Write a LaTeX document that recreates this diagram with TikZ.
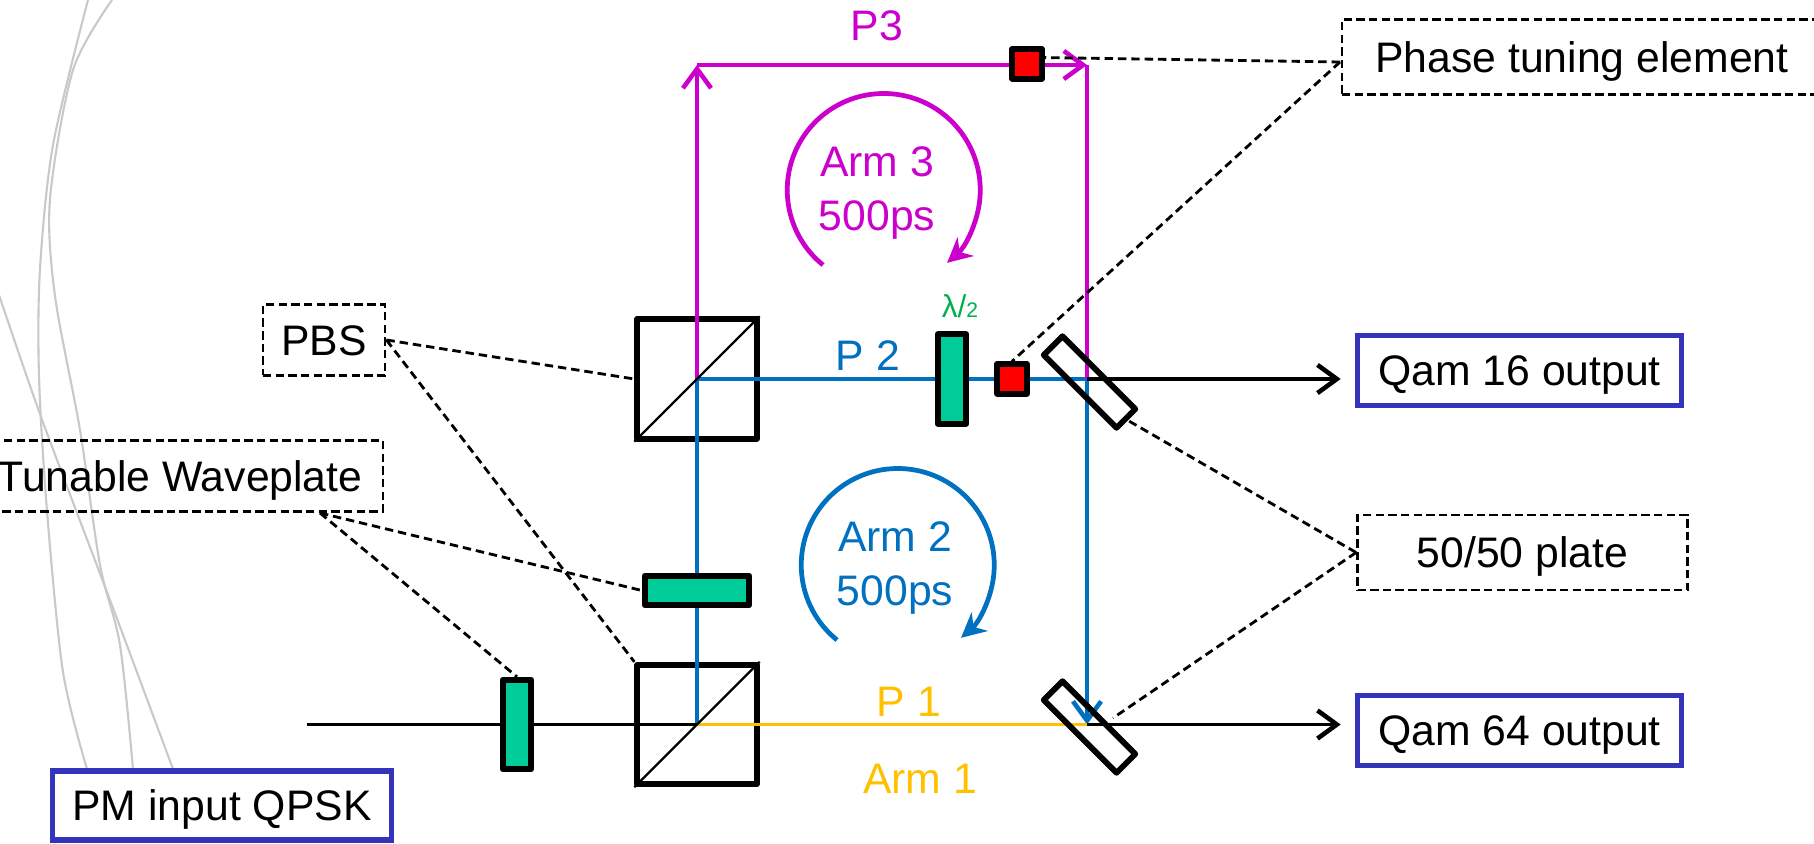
\documentclass[tikz,border=0pt]{standalone}
\usepackage{xcolor}
\usepackage{fontspec}
\setmainfont{Liberation Sans}
\usetikzlibrary{positioning,arrows.meta}

\definecolor{armthree}{HTML}{CC00CC}
\definecolor{armtwo}{HTML}{0070C0}
\definecolor{armone}{HTML}{FFC000}
\definecolor{plategreen}{HTML}{00CC99}
\definecolor{lambdagreen}{HTML}{00B050}
\definecolor{outblue}{HTML}{3333BB}
\definecolor{swoosh}{HTML}{C6CACA}

\begin{document}
\begin{tikzpicture}[
    every node/.style={font=\fontsize{12.15}{15.2}\selectfont},
    opaque part/.style={draw=black,line width=1.65pt,line join=round,inner sep=0pt},
    cube/.style={opaque part,minimum size=1.195cm},
    wave/.style={opaque part,fill=plategreen},
    phase/.style={opaque part,fill=red,minimum size=0.295cm},
    plate/.style={opaque part,minimum width=1.03cm,minimum height=0.265cm,rotate=-45},
    label box/.style={inner sep=0pt,text height=8.6pt,text depth=0pt,align=center},
    note/.style={label box,draw=black,line width=0.8pt,dash pattern=on 2.4pt off 1.2pt},
    output/.style={label box,draw=outblue,line width=1.6pt},
    leader/.style={draw=black,line width=0.8pt,dash pattern=on 2.4pt off 1.4pt},
    beam/.style={line width=1pt},
    tip/.style={-{Straight Barb[length=5.5pt,width=8pt,line width=1.3pt]}},
    turn/.style={line width=1.35pt,-{Stealth[length=7pt,width=7pt]}}
  ]

  \path[use as bounding box,clip] (0,0) rectangle (18.14,8.43);

  \draw[swoosh,line width=0.6pt] plot[smooth] coordinates {(0.88,8.43) (0.53,6.98) (0.40,5.74) (0.39,4.67) (0.47,3.32) (0.63,1.71) (0.87,0.74)};
  \draw[swoosh,line width=0.6pt] plot[smooth] coordinates {(1.12,8.43) (0.73,7.73) (0.50,6.44) (0.55,5.47) (0.80,4.13) (1.00,2.78) (1.20,1.98) (1.33,0.74)};
  \draw[swoosh,line width=0.6pt] plot[smooth] coordinates {(-0.10,5.75) (0.40,4.29) (1.13,2.35) (1.73,0.74)};

  \coordinate (start) at (3.07,1.185);
  \coordinate (topleft) at (6.97,7.78);
  \coordinate (topright) at (10.87,7.78);
  \coordinate (midright) at (10.87,4.64);
  \coordinate (botright) at (10.87,1.185);

  \node[cube] (pbstop) at (6.97,4.64) {};
  \node[cube] (pbsbot) at (6.97,1.185) {};

  \node[output,minimum width=3.24cm,minimum height=0.70cm] (qamup) at (15.195,4.725) {Qam 16 output};
  \node[output,minimum width=3.24cm,minimum height=0.70cm] (qamdown) at (15.195,1.125) {Qam 64 output};
  \node[output,minimum width=3.39cm,minimum height=0.69cm] (input) at (2.22,0.375) {PM input QPSK};

  \draw[beam,armtwo] (pbsbot.center) -- (pbstop.center);
  \draw[beam,armtwo] (pbstop.center) -- (midright);
  \draw[beam,armtwo,tip] (midright) -- (botright);
  \draw[beam,armone] (pbsbot.center) -- (botright);
  \draw[beam,armthree,tip] (pbstop.center) -- (topleft);
  \draw[beam,armthree,tip] (topleft) -- (topright);
  \draw[beam,armthree] (topright) -- (midright);
  \draw[beam] (start) -- (pbsbot.center);
  \draw[beam,tip,shorten >=0.14cm] (midright) -- (qamup.west |- midright);
  \draw[beam,tip,shorten >=0.14cm] (botright) -- (qamdown.west |- botright);

  \draw[black,line width=0.65pt] (pbstop.south west) -- (pbstop.north east);
  \draw[black,line width=0.65pt] (pbsbot.south west) -- (pbsbot.north east);

  \node[plate] (splitup) at (10.895,4.61) {};
  \node[plate] (splitdown) at (10.895,1.16) {};

  \node[wave,minimum width=0.285cm,minimum height=0.895cm] (waveinput) at (5.17,1.185) {};
  \node[wave,minimum width=1.045cm,minimum height=0.295cm] (wavearm) at (6.97,2.525) {};
  \node[wave,minimum width=0.285cm,minimum height=0.895cm] (wavehalf) at (9.52,4.64) {};
  \node[phase] (phasearm) at (10.12,4.64) {};
  \node[phase] (phasetop) at (10.27,7.79) {};

  \node[note,minimum width=1.22cm,minimum height=0.71cm] (pbs) at (3.24,5.03) {PBS};
  \node[note,minimum width=4.06cm,minimum height=0.71cm] (tunable) at (1.80,3.67) {Tunable Waveplate};
  \node[note,minimum width=4.80cm,minimum height=0.75cm] (tuning) at (15.82,7.86) {Phase tuning element};
  \node[note,minimum width=3.30cm,minimum height=0.75cm] (fifty) at (15.225,2.905) {50/50 plate};

  \coordinate (tunablefoot) at (3.20,3.30);
  \coordinate (tuningfoot) at (13.40,7.81);
  \coordinate (platefoot) at (11.13,1.25);

  \draw[leader] (pbs.east) -- (pbstop.west);
  \draw[leader] (pbs.east) -- (pbsbot.north west);
  \draw[leader] (tunablefoot) -- (wavearm.west);
  \draw[leader] (tunablefoot) -- (waveinput.north);
  \draw[leader] (tuningfoot) -- (phasetop.20);
  \draw[leader] (tuningfoot) -- (phasearm.north);
  \draw[leader] (fifty.west) -- (splitup.east);
  \draw[leader] (fifty.west) -- (platefoot);

  \draw[turn,armthree] (8.23,5.78) arc[start angle=231,end angle=-49,radius=0.965];
  \draw[turn,armtwo] (8.37,2.03) arc[start angle=231,end angle=-49,radius=0.965];

  \node[label box,text=armthree] (pthree) at (8.77,8.18) {P3};
  \node[label box,text=armtwo] (ptwo) at (8.68,4.88) {P 2};
  \node[label box,text=armone] (pone) at (9.09,1.42) {P 1};
  \node[label box,text=armone] (armfirst) at (9.20,0.65) {Arm 1};
  \node[align=center,text=armthree] (armthird) at (8.77,6.50) {Arm 3\\500ps};
  \node[align=center,text=armtwo] (armsecond) at (8.95,2.75) {Arm 2\\500ps};
  \node[text=lambdagreen,inner sep=0pt,font=\fontsize{9}{10}\selectfont] (halflabel) at (9.60,5.37) {λ/{\fontsize{6}{7}\selectfont 2}};
\end{tikzpicture}
\end{document}
